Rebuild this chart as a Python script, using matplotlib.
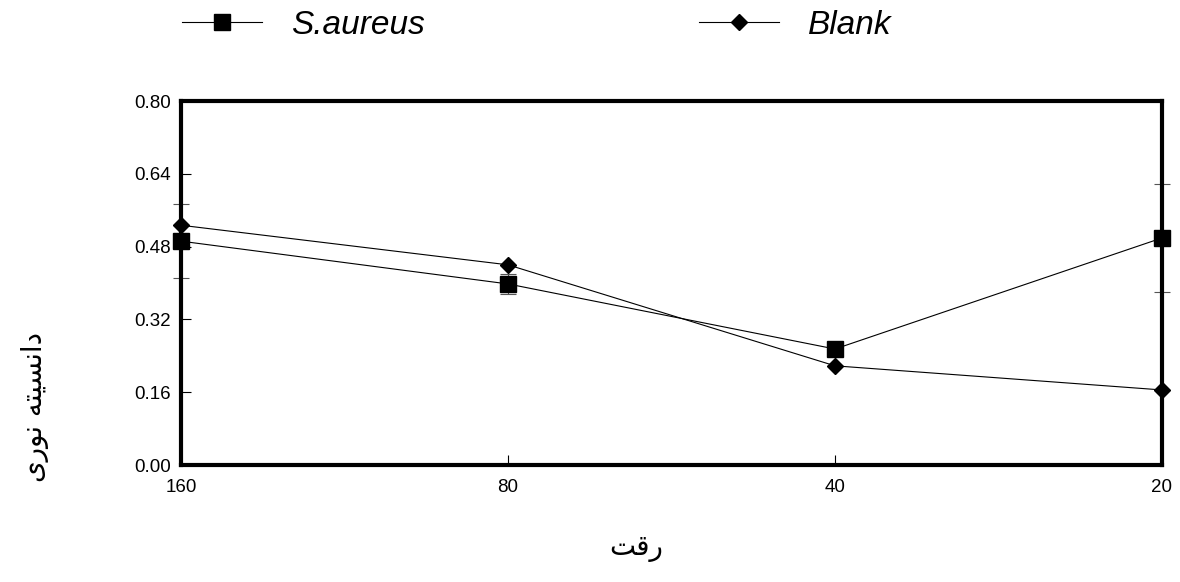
import matplotlib.pyplot as plt
from matplotlib.lines import Line2D

# dilution categories (equally spaced on the axis)
dilutions = ['160', '80', '40', '20']

# optical density values
saureus = [0.492, 0.398, 0.255, 0.499]
saureus_err = [0.081, 0.022, 0.0, 0.119]
blank = [0.527, 0.440, 0.218, 0.165]
blank_err = [0.0, 0.0, 0.0, 0.0]

yticks = [0.00, 0.16, 0.32, 0.48, 0.64, 0.80]

# Persian labels, written in visual order with presentation forms
ylabel_fa = '\uFEEF\uFEAD\uFEEE\uFEE7 \uFEEA\uFE98\uFEF4\uFEB4\uFEE7\uFE8D\uFEA9'  # دانسیته نوری
xlabel_fa = '\uFE96\uFED7\uFEAD'  # رقت

plt.rcParams['font.family'] = ['Liberation Sans', 'DejaVu Sans']

fig = plt.figure(figsize=(11.8, 5.82), dpi=100)
ax = fig.add_axes([0.1534, 0.201, 0.8313, 0.6254])

x = list(range(len(dilutions)))

ax.errorbar(x, saureus, yerr=saureus_err, color='black', lw=0.8,
            marker='s', markersize=11, ecolor='#555555', elinewidth=0.8,
            capsize=6, capthick=0.8, clip_on=False, zorder=3)
ax.errorbar(x, blank, yerr=blank_err, color='black', lw=0.8,
            marker='D', markersize=8, ecolor='#555555', elinewidth=0.8,
            capsize=0, clip_on=False, zorder=3)

ax.set_xlim(0, len(dilutions) - 1)
ax.set_ylim(0, 0.80)
ax.set_xticks(x)
ax.set_xticklabels(dilutions)
ax.set_yticks(yticks)
ax.set_yticklabels([f'{v:.2f}' for v in yticks])
ax.tick_params(direction='in', length=7, width=0.8, labelsize=13.5)
ax.tick_params(axis='y', pad=7)
ax.tick_params(axis='x', pad=10)

for s in ax.spines.values():
    s.set_linewidth(3.0)
    s.set_zorder(4)

fig.text(0.03, 1 - 407 / 582, ylabel_fa, rotation=90, ha='center', va='center',
         fontsize=20, family='DejaVu Sans')
fig.text(636 / 1180, 1 - 548 / 582, xlabel_fa, ha='center', va='center',
         fontsize=20, family='DejaVu Sans')

handles = [Line2D([], [], color='black', lw=0.8, marker='s', markersize=11),
           Line2D([], [], color='black', lw=0.8, marker='D', markersize=8)]
fig.legend(handles, ['S.aureus', 'Blank'], loc='upper left',
           bbox_to_anchor=(0.129, 1.035), ncol=2, frameon=False,
           prop={'style': 'italic', 'size': 24}, handlelength=2.4,
           handletextpad=0.85, columnspacing=8.25)

fig.savefig('out.png', dpi=100)
